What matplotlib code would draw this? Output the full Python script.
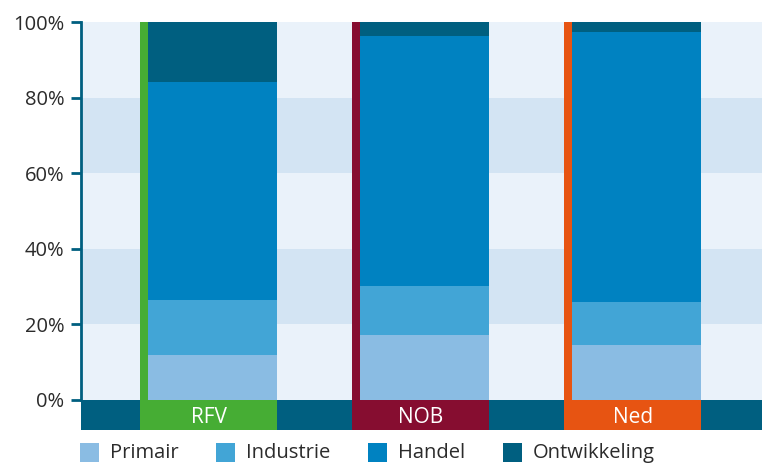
import matplotlib
matplotlib.use("Agg")
import matplotlib.pyplot as plt
from matplotlib.patches import Rectangle

categories = ["RFV", "NOB", "Ned"]
series_names = ["Primair", "Industrie", "Handel", "Ontwikkeling"]
primair = [11.9, 17.2, 14.6]
industrie = [14.6, 13.0, 11.3]
handel = [57.6, 66.1, 71.5]
ontwikkeling = [15.9, 3.7, 2.6]
yticks = [0, 20, 40, 60, 80, 100]
ytick_labels = ["0%", "20%", "40%", "60%", "80%", "100%"]

series_colors = ["#8abce3", "#42a5d6", "#0082c1", "#005f80"]
cat_colors = ["#46ad34", "#860d30", "#e75412"]
band_light = "#eaf2fa"
band_dark = "#d3e4f3"
dark = "#005f80"

plt.rcParams['font.family'] = ['Open Sans', 'DejaVu Sans']

W, H = 762, 465
fig = plt.figure(figsize=(W / 100, H / 100), dpi=100)
ax = fig.add_axes([81 / W, (H - 430) / H, (W - 81) / W, (430 - 22) / H])

band_h = 7.94
ax.set_ylim(-band_h, 100)
ax.set_xlim(-0.62, 2.59)

# background bands
for i in range(5):
    c = band_light if i % 2 == 0 else band_dark
    ax.axhspan(i * 20, (i + 1) * 20, color=c, zorder=0, lw=0)
# bottom dark band
ax.axhspan(-band_h, 0, color=dark, zorder=1, lw=0)

bw = 0.608
lw_ = 0.038
data = [primair, industrie, handel, ontwikkeling]
xs = list(range(len(categories)))
bottoms = [0.0] * len(categories)
for vals, col, name in zip(data, series_colors, series_names):
    ax.bar(xs, vals, width=bw, bottom=bottoms, color=col, lw=0, zorder=3, label=name)
    bottoms = [b + v for b, v in zip(bottoms, vals)]

for x, c, lab in zip(xs, cat_colors, categories):
    left = x - bw / 2
    # vertical colored line
    ax.add_patch(Rectangle((left - lw_, 0), lw_, 100, color=c, lw=0, zorder=4))
    # label box
    ax.add_patch(Rectangle((left - lw_, -band_h), bw + lw_, band_h, color=c, lw=0, zorder=4))
    ax.text(x - lw_ / 2, -band_h / 2 - 0.6, lab, color="white", ha="center", va="center",
            fontsize=15, zorder=5)

ax.set_yticks(yticks)
ax.set_yticklabels(ytick_labels, fontsize=14.5, color="#2b2b2b")
ax.set_xticks([])
for s in ["top", "right", "bottom"]:
    ax.spines[s].set_visible(False)
ax.spines["left"].set_color(dark)
ax.spines["left"].set_linewidth(2)
ax.spines["left"].set_bounds(0, 100)
ax.tick_params(axis="y", length=7, width=2, color=dark, pad=5)

# legend
leg_x = [80, 216, 368, 503]
for lx, col, name in zip(leg_x, series_colors, series_names):
    fig.patches.append(Rectangle((lx / W, (H - 462) / H), 19 / W, 19 / H,
                                 transform=fig.transFigure, color=col, lw=0))
    fig.text((lx + 30) / W, (H - 453) / H, name, fontsize=14.5, color="#2b2b2b",
             va="center", ha="left")

fig.savefig("out.png", dpi=100)
